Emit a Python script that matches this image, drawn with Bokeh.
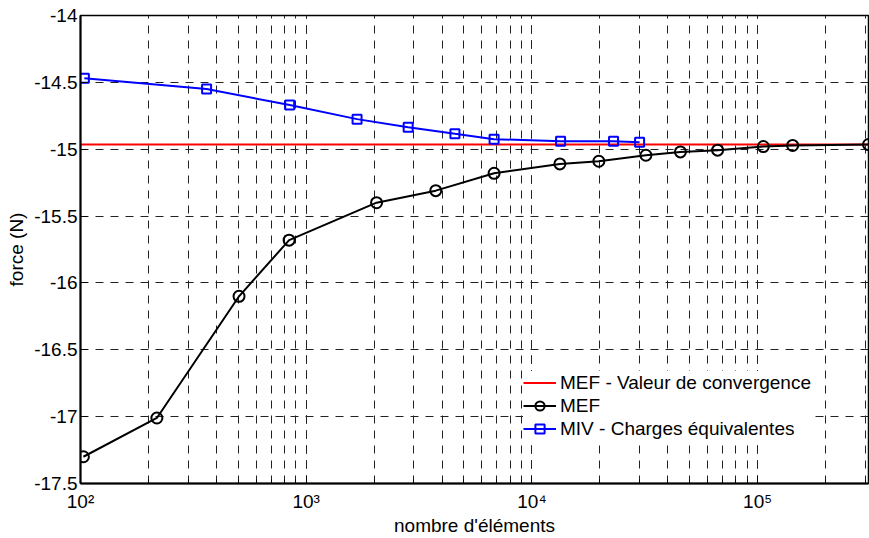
from bokeh.plotting import figure
from bokeh.models import Range1d, FixedTicker, LogTicker, Legend, LegendItem
from bokeh.embed import file_html
from bokeh.resources import INLINE

# ---- data ----
x_conv = [1e2, 3.1e5]
y_conv = [-14.965, -14.965]

x_mef = [103, 218, 504, 840, 2050, 3750, 6800, 13300, 19800, 32000, 45500, 66500, 106000, 143000, 310000]
y_mef = [-17.30, -17.01, -16.10, -15.68, -15.40, -15.31, -15.18, -15.11, -15.09, -15.045, -15.02, -15.007, -14.98, -14.972, -14.965]

x_miv = [104, 362, 845, 1680, 2830, 4560, 6800, 13400, 23000, 30000]
y_miv = [-14.47, -14.55, -14.67, -14.775, -14.835, -14.885, -14.925, -14.94, -14.94, -14.948]

x_ticks = [1e2, 1e3, 1e4, 1e5]
x_tick_labels = ["10²", "10³", "10⁴", "10⁵"]
y_ticks = [-17.5, -17, -16.5, -16, -15.5, -15, -14.5, -14]
y_tick_labels = ["-17.5", "-17", "-16.5", "-16", "-15.5", "-15", "-14.5", "-14"]

FONT = "Liberation Sans"
FS = "19px"

p = figure(width=869, height=538, x_axis_type="log", output_backend="svg",
           toolbar_location=None,
           x_range=Range1d(1e2, 3.1e5), y_range=Range1d(-17.5, -14),
           min_border_left=80, min_border_right=1, min_border_top=15, min_border_bottom=54)

p.background_fill_color = "white"
p.border_fill_color = "white"
p.outline_line_color = "black"
p.outline_line_width = 1.5

# axes
p.xaxis.ticker = LogTicker(num_minor_ticks=10)
p.xaxis.major_label_overrides = {t: l for t, l in zip(x_ticks, x_tick_labels)}
p.yaxis.ticker = FixedTicker(ticks=y_ticks)
p.yaxis.major_label_overrides = {t: l for t, l in zip(y_ticks, y_tick_labels)}
for ax in (p.xaxis, p.yaxis):
    ax.axis_line_width = 2
    ax.axis_line_color = "black"
    ax.major_tick_in = 7
    ax.major_tick_out = 0
    ax.minor_tick_in = 4
    ax.minor_tick_out = 0
    ax.major_tick_line_color = "black"
    ax.minor_tick_line_color = "black"
    ax.major_label_text_font = FONT
    ax.major_label_text_font_size = FS
    ax.major_label_text_color = "black"
    ax.axis_label_text_font = FONT
    ax.axis_label_text_font_size = FS
    ax.axis_label_text_font_style = "normal"
    ax.axis_label_text_color = "black"
p.yaxis.minor_tick_line_color = None
p.xaxis.axis_label = "nombre d'éléments"
p.yaxis.axis_label = "force (N)"
p.xaxis.major_label_standoff = 7
p.yaxis.major_label_standoff = 3
p.xaxis.axis_label_standoff = 0
p.yaxis.axis_label_standoff = 4

# grids
p.xgrid.ticker = LogTicker(num_minor_ticks=10)
p.xgrid.grid_line_color = "#222222"
p.xgrid.grid_line_dash = "8 7"
p.xgrid.grid_line_width = 1
p.xgrid.minor_grid_line_color = "#222222"
p.xgrid.minor_grid_line_dash = "8 7"
p.xgrid.minor_grid_line_width = 1
p.ygrid.ticker = FixedTicker(ticks=y_ticks)
p.ygrid.grid_line_color = "#222222"
p.ygrid.grid_line_dash = "8 7"
p.ygrid.grid_line_width = 1

# series
r_conv = p.line(x_conv, y_conv, line_color="red", line_width=2)
r_mef_l = p.line(x_mef, y_mef, line_color="black", line_width=2)
r_mef_m = p.scatter(x_mef, y_mef, marker="circle", size=11, fill_color=None,
                    line_color="black", line_width=2)
r_miv_l = p.line(x_miv, y_miv, line_color="blue", line_width=2)
r_miv_m = p.scatter(x_miv, y_miv, marker="square", size=9, fill_color=None,
                    line_color="blue", line_width=2)

legend = Legend(items=[
    LegendItem(label="MEF - Valeur de convergence", renderers=[r_conv]),
    LegendItem(label="MEF", renderers=[r_mef_l, r_mef_m]),
    LegendItem(label="MIV - Charges équivalentes", renderers=[r_miv_l, r_miv_m]),
], location=(443, 43))
legend.label_text_font = FONT
legend.label_text_font_size = FS
legend.label_text_color = "black"
legend.glyph_width = 33
legend.glyph_height = 23
legend.label_height = 23
legend.label_standoff = 4
legend.spacing = 0
legend.padding = 10
legend.margin = 0
legend.border_line_color = None
legend.background_fill_color = "white"
legend.background_fill_alpha = 1
p.add_layout(legend, "center")

open("out.html", "w").write(file_html(p, INLINE))
